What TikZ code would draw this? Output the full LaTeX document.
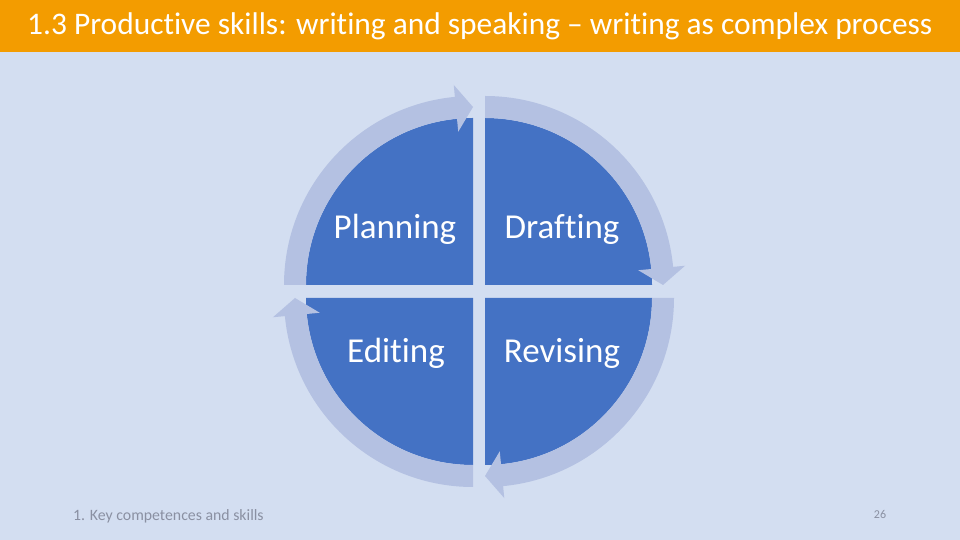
\documentclass[tikz,border=0pt]{standalone}
\usepackage{fontspec}
\setmainfont[Ligatures=NoCommon]{Carlito}
\definecolor{slidebg}{HTML}{D3DEF1}
\definecolor{titlebar}{HTML}{F39C00}
\definecolor{sectorblue}{HTML}{4472C4}
\definecolor{ringblue}{HTML}{B4C1E2}
\definecolor{footgray}{HTML}{8A90A2}
\tikzset{
  steplabel/.style={anchor=base, text=white, font=\fontsize{35}{38}\selectfont},
  sector/.style={fill=sectorblue},
  ring/.style={fill=ringblue}
}
\begin{document}
\begin{tikzpicture}[x=1pt,y=1pt]
    \useasboundingbox (0,0) rectangle (960,540);
        % Background
        \fill[slidebg] (0,0) rectangle (960,540);

        % Title bar
        \fill[titlebar] (0,488) rectangle (960,540);
        \node[
          anchor=base west,
          inner sep=0pt,
          text=white,
          font=\fontsize{31.4}{34}\selectfont
        ] (title) at (27,505)
          {1.3 Productive skills: writing and speaking – writing as complex process};

        % Planning (top left)
        \begin{scope}[shift={(473,255)}]
          \fill[sector] (0,0) -- (180:167) arc[start angle=180, end angle=90, radius=167] -- cycle;
          \fill[ring] (180:189) arc[start angle=180, end angle=95.5, radius=189]
            -- (95.5:201) -- (90:178) -- (95.5:154) -- (95.5:167)
            arc[start angle=95.5, end angle=180, radius=167] -- cycle;
        \end{scope}

        % Drafting (top right)
        \begin{scope}[shift={(485,255)}]
          \fill[sector] (0,0) -- (90:167) arc[start angle=90, end angle=0, radius=167] -- cycle;
          \fill[ring] (90:189) arc[start angle=90, end angle=5.5, radius=189]
            -- (5.5:201) -- (0:178) -- (5.5:154) -- (5.5:167)
            arc[start angle=5.5, end angle=90, radius=167] -- cycle;
        \end{scope}

        % Revising (bottom right)
        \begin{scope}[shift={(485,242)}]
          \fill[sector] (0,0) -- (0:167) arc[start angle=0, end angle=-90, radius=167] -- cycle;
          \fill[ring] (0:189) arc[start angle=0, end angle=-84.5, radius=189]
            -- (-84.5:201) -- (-90:178) -- (-84.5:154) -- (-84.5:167)
            arc[start angle=-84.5, end angle=0, radius=167] -- cycle;
        \end{scope}

        % Editing (bottom left)
        \begin{scope}[shift={(473,242)}]
          \fill[sector] (0,0) -- (-90:167) arc[start angle=-90, end angle=-180, radius=167] -- cycle;
          \fill[ring] (-90:189) arc[start angle=-90, end angle=-174.5, radius=189]
            -- (-174.5:201) -- (-180:178) -- (-174.5:154) -- (-174.5:167)
            arc[start angle=-174.5, end angle=-90, radius=167] -- cycle;
        \end{scope}

        \node[steplabel] (planning) at (395,301) {Planning};
        \node[steplabel] (drafting) at (562,301) {Drafting};
        \node[steplabel] (editing) at (396,177) {Editing};
        \node[steplabel] (revising) at (562,177) {Revising};

        % Footer
        \node[
          anchor=base west,
          inner sep=0pt,
          text=footgray,
          font=\fontsize{15.8}{17}\selectfont
        ] (footer) at (73,19) {1. Key competences and skills};
        \node[
          anchor=base,
          inner sep=0pt,
          text=footgray,
          font=\fontsize{12}{14}\selectfont
        ] (pagenum) at (880,21) {26};
\end{tikzpicture}
\end{document}
